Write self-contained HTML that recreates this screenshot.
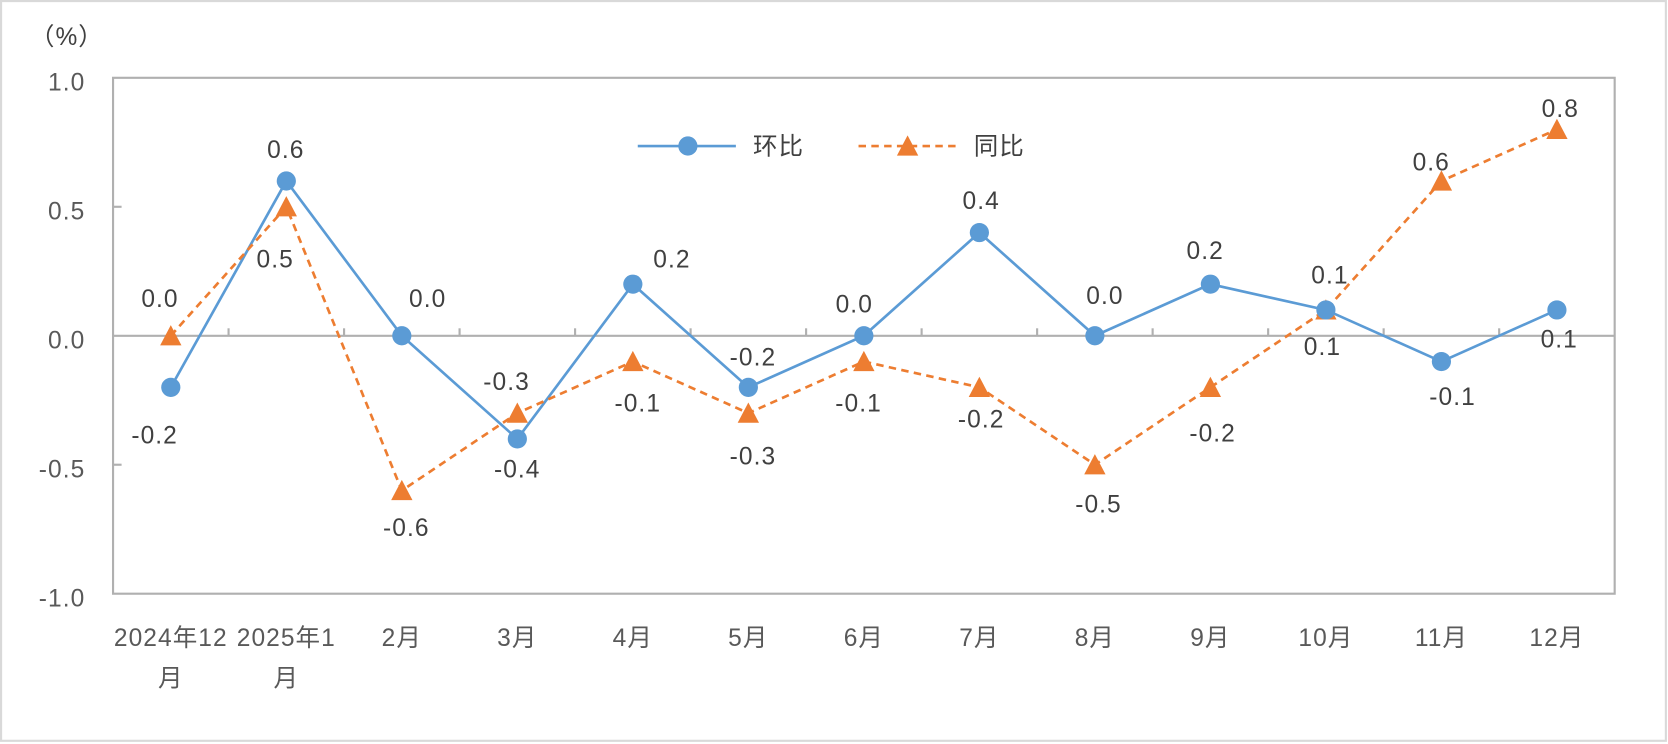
<!DOCTYPE html>
<html><head><meta charset="utf-8"><style>html,body{margin:0;padding:0;background:#fff}svg{display:block}text{letter-spacing:1px}</style></head><body>
<svg width="1668" height="744" viewBox="0 0 1564 698" preserveAspectRatio="none" xmlns="http://www.w3.org/2000/svg" font-family="'Liberation Sans','Noto Sans CJK SC',sans-serif">
<rect x="1" y="1" width="1561" height="694" fill="#fff" stroke="#d9d9d9" stroke-width="2"/>
<text x="28" y="42" font-size="23" fill="#404040">（%）</text>
<g stroke="#b0b0b0" stroke-width="2" fill="none">
<rect x="106" y="73" width="1408" height="484"/>
<line x1="106" y1="315" x2="1514" y2="315"/>
<line x1="106" y1="194" x2="114" y2="194"/>
<line x1="106" y1="436" x2="114" y2="436"/>
</g>
<g stroke="#b0b0b0" stroke-width="2" id="ticks"></g>
<g font-size="23" fill="#595959" text-anchor="end">
<text x="80" y="85">1.0</text><text x="80" y="206">0.5</text><text x="80" y="327">0.0</text>
<text x="80" y="448">-0.5</text><text x="80" y="569">-1.0</text>
</g>
<g font-size="23" fill="#595959" text-anchor="middle" id="xl"></g>
<polyline id="h" fill="none" stroke="#5b9bd5" stroke-width="2.5"/>
<polyline id="t" fill="none" stroke="#ed7d31" stroke-width="2.5" stroke-dasharray="7,5"/>
<g id="m"></g>
<g font-size="23" fill="#404040" text-anchor="middle">
<text x="145" y="416">-0.2</text><text x="268" y="148">0.6</text><text x="401" y="288">0.0</text><text x="485" y="448">-0.4</text><text x="630" y="251">0.2</text><text x="706" y="343">-0.2</text><text x="801" y="293">0.0</text><text x="920" y="196">0.4</text><text x="1036" y="285">0.0</text><text x="1130" y="243">0.2</text><text x="1247" y="266">0.1</text><text x="1362" y="380">-0.1</text><text x="1462" y="326">0.1</text>
<text x="150" y="288">0.0</text><text x="258" y="251">0.5</text><text x="381" y="503">-0.6</text><text x="475" y="366">-0.3</text><text x="598" y="386">-0.1</text><text x="706" y="436">-0.3</text><text x="805" y="386">-0.1</text><text x="920" y="401">-0.2</text><text x="1030" y="481">-0.5</text><text x="1137" y="414">-0.2</text><text x="1240" y="333">0.1</text><text x="1342" y="160">0.6</text><text x="1463" y="110">0.8</text>
</g>
<line x1="598" y1="137" x2="690" y2="137" stroke="#5b9bd5" stroke-width="2.5"/>
<circle cx="645" cy="137" r="9" fill="#5b9bd5"/>
<text x="706" y="145" font-size="23" fill="#404040">环比</text>
<line x1="805" y1="137" x2="897" y2="137" stroke="#ed7d31" stroke-width="2.5" stroke-dasharray="7,5"/>
<polygon points="851,127 861,146 841,146" fill="#ed7d31"/>
<text x="913" y="145" font-size="23" fill="#404040">同比</text>
<script>
var h=[-0.2,0.6,0,-0.4,0.2,-0.2,0,0.4,0,0.2,0.1,-0.1,0.1],t=[0,0.5,-0.6,-0.3,-0.1,-0.3,-0.1,-0.2,-0.5,-0.2,0.1,0.6,0.8];
var L=106,W=1408/13,Z=315,U=242,ns="http://www.w3.org/2000/svg";
function X(i){return L+W*(i+0.5)}function Y(v){return Z-v*U}
function el(n,a,p){var e=document.createElementNS(ns,n);for(var k in a)e.setAttribute(k,a[k]);document.getElementById(p).appendChild(e);return e}
document.getElementById('h').setAttribute('points',h.map(function(v,i){return X(i)+','+Y(v)}).join(' '));
document.getElementById('t').setAttribute('points',t.map(function(v,i){return X(i)+','+Y(v)}).join(' '));
for(var i=1;i<13;i++)el('line',{x1:L+W*i,y1:308,x2:L+W*i,y2:315},'ticks');
for(var i=0;i<13;i++){var x=X(i),y=Y(t[i]);el('polygon',{points:x+','+(y-10)+' '+(x+10)+','+(y+9)+' '+(x-10)+','+(y+9),fill:'#ed7d31'},'m');}
for(var i=0;i<13;i++)el('circle',{cx:X(i),cy:Y(h[i]),r:9,fill:'#5b9bd5'},'m');
var lab=['2024年12','2025年1','2月','3月','4月','5月','6月','7月','8月','9月','10月','11月','12月'];
for(var i=0;i<13;i++){var e=el('text',{x:X(i),y:606},'xl');e.textContent=lab[i];}
var e=el('text',{x:X(0),y:644},'xl');e.textContent='月';e=el('text',{x:X(1),y:644},'xl');e.textContent='月';
</script>
</svg>
</body></html>
